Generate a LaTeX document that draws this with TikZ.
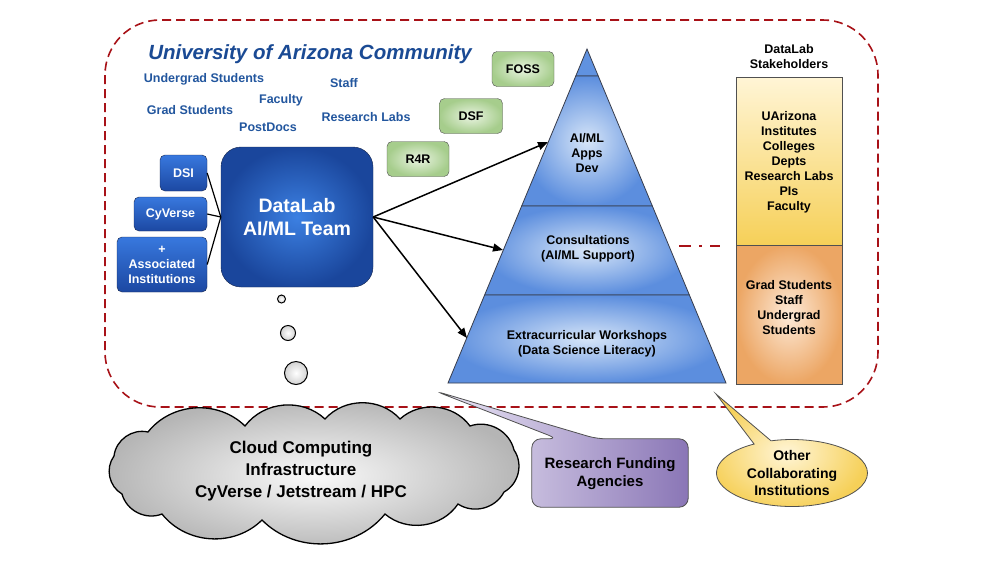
\documentclass[tikz,border=0pt]{standalone}
\usepackage{fontspec}
\setmainfont{Liberation Sans}
\usetikzlibrary{arrows.meta,shapes.symbols,shapes.callouts,shapes.geometric,calc}

\definecolor{dred}{RGB}{168,18,24}
\definecolor{ublue}{RGB}{26,74,148}
\definecolor{lblue}{RGB}{34,86,158}
\definecolor{gin}{RGB}{234,244,226}
\definecolor{gout}{RGB}{166,205,140}
\definecolor{btop}{RGB}{56,120,222}
\definecolor{bbot}{RGB}{28,72,162}
\definecolor{bin}{RGB}{60,128,226}
\definecolor{bout}{RGB}{26,70,156}
\definecolor{bedge}{RGB}{24,40,80}
\definecolor{pin}{RGB}{214,229,248}
\definecolor{pout}{RGB}{92,142,222}
\definecolor{ptop}{RGB}{96,146,224}
\definecolor{pedge}{RGB}{55,60,75}
\definecolor{yel1}{RGB}{255,245,214}
\definecolor{yel2}{RGB}{246,208,88}
\definecolor{or1}{RGB}{253,234,216}
\definecolor{or2}{RGB}{236,166,100}
\definecolor{pur1}{RGB}{236,232,246}
\definecolor{pur2}{RGB}{138,118,182}
\definecolor{ecol}{RGB}{80,80,80}

\newcommand{\fsz}[2]{\fontsize{#1}{#2}\selectfont}

\begin{document}
\begin{tikzpicture}[x=1pt,y=-1pt,
  lbl/.style={text=lblue, font=\bfseries\fsz{12.5}{15}, anchor=base, inner sep=0},
  gbox/.style={draw=ecol, rounded corners=5pt, inner color=gin, outer color=gout,
     font=\bfseries\fsz{12.5}{15}, minimum width=62, minimum height=35, inner sep=0},
  bbox/.style={draw=bedge, rounded corners=5pt, top color=btop, bottom color=bbot,
     text=white, font=\bfseries\fsz{12.5}{15}, align=center, inner sep=0},
  ptext/.style={font=\bfseries\fsz{12.5}{15}, align=center},
  stext/.style={font=\bfseries\fsz{12.5}{15}, align=center},
  arr/.style={line width=1.5pt, -{Triangle[length=10pt,width=8pt]}},
  link/.style={line width=1.2pt},
  bubble/.style={circle, draw, line width=1pt, inner color=white, outer color=gray!35, inner sep=0},
  puff/.style={bend left=48}
]
\useasboundingbox (0,0) rectangle (1000,563);
\fill[white] (0,0) rectangle (1000,563);

% community frame
\draw[dred, line width=1.6pt, dash pattern=on 9pt off 5pt, rounded corners=55pt] (105,20) rectangle (878,407);

% title and labels
\node[lbl, text=ublue, font=\bfseries\itshape\fsz{20.5}{24}] (title) at (310,59) {University of Arizona Community};
\node[lbl] (ug) at (204,82) {Undergrad Students};
\node[lbl] (staff) at (344,87) {Staff};
\node[lbl] (fac) at (281,103) {Faculty};
\node[lbl] (grad) at (190,114) {Grad Students};
\node[lbl] (rl) at (366,121) {Research Labs};
\node[lbl] (pd) at (268,131) {PostDocs};

% green boxes
\node[gbox] (foss) at (523,69) {FOSS};
\node[gbox, minimum width=63] (dsf) at (471,116) {DSF};
\node[gbox] (r4r) at (418,159) {R4R};

% blue boxes
\node[draw=bedge, rounded corners=20pt, minimum width=152, minimum height=140,
  inner color=bin, outer color=bout, text=white, font=\bfseries\fsz{19.5}{23}, align=center] (dl) at (297,217) {DataLab\\AI/ML Team};
\node[bbox, minimum width=47, minimum height=36] (dsi) at (183.5,173) {DSI};
\node[bbox, minimum width=73, minimum height=34] (cyv) at (170.5,214) {CyVerse};
\node[bbox, minimum width=90, minimum height=55] (asi) at (162,264.5) {+\\Associated\\Institutions};

\draw[link] (dsi.east) -- (dl.west);
\draw[link] (cyv.east) -- (dl.west);
\draw[link] (asi.east) -- (dl.west);

% thought bubbles
\node[bubble, minimum size=8] (b1) at (281.5,299) {};
\node[bubble, minimum size=15] (b2) at (288,333) {};
\node[bubble, minimum size=23] (b3) at (296,373) {};

% pyramid
\coordinate (apex) at (587,49);
\coordinate (bl) at (448,383);
\coordinate (br) at (726,383);
\coordinate (l1) at ($(apex)!0.0808!(bl)$);
\coordinate (r1) at ($(apex)!0.0808!(br)$);
\coordinate (l2) at ($(apex)!0.470!(bl)$);
\coordinate (r2) at ($(apex)!0.470!(br)$);
\coordinate (l3) at ($(apex)!0.7365!(bl)$);
\coordinate (r3) at ($(apex)!0.7365!(br)$);
\path[draw=pedge, line width=0.8pt, fill=ptop] (apex) -- (r1) -- (l1) -- cycle;
\path[draw=pedge, line width=0.8pt, inner color=pin, outer color=pout] (l1) -- (r1) -- (r2) -- (l2) -- cycle;
\path[draw=pedge, line width=0.8pt, inner color=pin, outer color=pout] (l2) -- (r2) -- (r3) -- (l3) -- cycle;
\path[draw=pedge, line width=0.8pt, inner color=pin, outer color=pout] (l3) -- (r3) -- (br) -- (bl) -- cycle;
\node[ptext] (p1) at (587,153) {AI/ML\\Apps\\Dev};
\node[ptext] (p2) at (588,249) {Consultations\\(AI/ML Support)};
\node[ptext] (p3) at (587,344) {Extracurricular Workshops\\(Data Science Literacy)};

% arrows
\coordinate (t1) at (548,142);
\coordinate (t2) at (503,250);
\coordinate (t3) at (467,338);
\draw[arr] (dl.east) -- (t1);
\draw[arr] (dl.east) -- (t2);
\draw[arr] (dl.east) -- (t3);

% stakeholders
\node[stext] (shl) at (789,57) {DataLab\\Stakeholders};
\node[draw=ecol, minimum width=106, minimum height=168, top color=yel1, bottom color=yel2, inner sep=0] (su) at (789,161) {};
\node[draw=ecol, minimum width=106, minimum height=139, inner color=or1, outer color=or2, inner sep=0] (sl) at (789,314.5) {};
\node[stext] (sut) at (789,162) {UArizona\\Institutes\\Colleges\\Depts\\Research Labs\\PIs\\Faculty};
\node[stext] (slt) at (789,308) {Grad Students\\Staff\\Undergrad\\Students};

\coordinate (dd1) at (679,246);
\coordinate (dd2) at (720,246);
\draw[dred, line width=1.6pt, dash pattern=on 12pt off 8pt on 3pt off 8pt] (dd1) -- (dd2);

% cloud
\path[draw, line width=1.3pt, inner color=gray!4, outer color=gray!58]
  (122,494) to[puff] (114,456) to[puff] (148,432) to[puff] (245,426)
  to[puff] (325,419) to[puff] (400,419) to[puff] (470,426) to[puff] (514,450)
  to[puff] (504,492) to[puff] (458,504) to[puff] (385,514) to[puff] (262,520)
  to[puff] (162,514) to[puff] cycle;
\node[font=\bfseries\fsz{17}{22}, align=center] (clt) at (301,471) {Cloud Computing\\Infrastructure\\CyVerse / Jetstream / HPC};

% research funding callout
\node[minimum width=156, minimum height=68, inner sep=0] (rf) at (610,473) {};
\coordinate (rftip) at (435,391);
\path[draw=ecol, line width=0.8pt, left color=pur1, right color=pur2, rounded corners=9pt]
  (rf.west) -- (rf.north west) -- ($(rf.north west)+(26,0)$) -- (rftip) -- ($(rf.north west)+(65,0)$)
  -- (rf.north east) -- (rf.south east) -- (rf.south west) -- cycle;
\node[font=\bfseries\fsz{15}{18}, align=center] (rft) at (610,474) {Research Funding\\Agencies};

% other collaborating callout
\node[ellipse callout, callout absolute pointer={(716,394)}, callout pointer arc=14,
  draw=ecol, line width=0.8pt, minimum width=151, minimum height=67, inner sep=0,
  inner color=yel1, outer color=yel2, font=\bfseries\fsz{14}{17.5}, align=center] (oc) at (792,473)
  {Other\\Collaborating\\Institutions};
\end{tikzpicture}
\end{document}
